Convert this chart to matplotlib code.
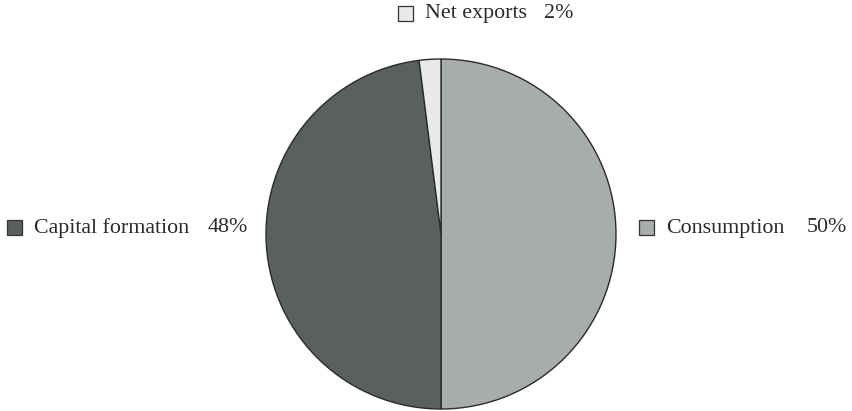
import matplotlib
matplotlib.use("Agg")
import matplotlib.pyplot as plt
from matplotlib.patches import Rectangle

categories = ["Consumption", "Capital formation", "Net exports"]
shares = [50, 48, 2]
colors = ["#a8acad", "#5a605e", "#e8e9e9"]

W, H = 852, 411
fig = plt.figure(figsize=(W / 100, H / 100), dpi=100)
ax = fig.add_axes([0, 0, 1, 1])
ax.set_xlim(0, W)
ax.set_ylim(0, H)
ax.axis("off")

cx, cy, r = 441, H - 234, 175
ax.pie(shares, colors=colors, startangle=90, counterclock=False,
       center=(cx, cy), radius=r,
       wedgeprops=dict(edgecolor="#2b2b2b", linewidth=1.0))
ax.set_xlim(0, W)
ax.set_ylim(0, H)
ax.set_aspect("equal")

font = dict(family="Liberation Serif", size=15.8, color="#2a2a2a")
# (square left x, center y, text end x) in pixels, top-left origin
label_pos = {
    "Net exports": (398, 14, 573),
    "Capital formation": (7, 228, 248),
    "Consumption": (639, 228, 847),
}
sq = 15
for cat, val, col in zip(categories, shares, colors):
    x, y, xend = label_pos[cat]
    yy = H - y
    ax.add_patch(Rectangle((x, yy - sq / 2), sq, sq, facecolor=col,
                           edgecolor="#333333", linewidth=0.9))
    ax.text(x + 27, yy, cat, va="center", ha="left", **font)
    ax.text(xend, yy, f"{val}%", va="center", ha="right", **font)

fig.savefig("out.png", dpi=100)
